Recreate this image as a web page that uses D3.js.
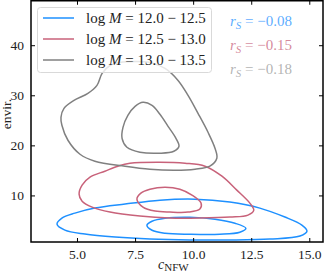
<!DOCTYPE html>
<html>
<head>
<meta charset="utf-8">
<script src="https://cdn.jsdelivr.net/npm/d3@7"></script>
<style>
  body { margin: 0; background: #fff; }
  svg { display: block; font-family: "Liberation Serif", "DejaVu Serif", serif; }
</style>
</head>
<body>
<div id="chart"></div>
<script>
// mass bins, correlation values and tick labels
const massBins = ["12.0 \u2212 12.5", "12.5 \u2212 13.0", "13.0 \u2212 13.5"];
const rsValues = ["\u22120.08", "\u22120.15", "\u22120.18"];
const colors = ["#1e90ff", "#c8627a", "#808080"];
const xTicks = [5.0, 7.5, 10.0, 12.5, 15.0];
const yTicks = [10, 20, 30, 40];

// contour levels: [cNFW, envir]
const blueOuter = [[4.14,4.28],[4.35,5.48],[4.91,6.47],[5.77,7.47],[7.07,8.27],[8.57,9.06],[10.08,9.26],[11.58,8.67],[12.87,7.47],[13.95,5.68],[14.68,4.08],[14.90,2.88],[14.60,1.89],[13.30,1.29],[11.58,1.10],[9.86,1.10],[8.14,1.29],[6.64,1.69],[5.34,2.29],[4.48,3.08]];
const blueInner = [[8.01,4.04],[8.23,4.84],[8.79,5.44],[9.86,5.64],[10.94,5.24],[11.80,4.44],[12.27,3.44],[12.01,2.65],[11.15,2.25],[9.86,2.25],[8.79,2.45],[8.23,3.05]];
const redOuter = [[7.28,16.43],[8.57,16.63],[9.65,16.43],[10.51,15.84],[11.24,13.84],[11.88,11.06],[12.44,8.47],[12.61,7.07],[12.36,6.07],[11.58,5.68],[10.29,5.48],[9.00,5.48],[7.71,5.88],[6.42,6.67],[5.65,7.67],[5.22,8.86],[5.09,10.26],[5.22,12.05],[5.56,13.65],[6.20,14.84],[6.76,15.84]];
const redInner = [[7.58,9.26],[7.75,10.46],[8.14,11.25],[8.79,11.65],[9.43,11.25],[9.95,10.06],[10.34,8.47],[10.29,7.27],[9.78,6.67],[9.00,6.67],[8.36,6.87],[7.84,7.67]];
const grayOuter = [[6.08,34.36],[6.42,35.95],[6.85,36.55],[7.50,36.75],[8.14,36.55],[8.79,35.36],[9.35,32.97],[9.78,29.98],[10.21,26.39],[10.64,22.61],[10.94,19.42],[11.02,17.43],[10.72,15.84],[10.08,15.24],[9.22,15.04],[8.14,15.24],[7.07,15.84],[5.77,16.83],[5.13,18.23],[4.61,21.02],[4.35,24.01],[4.31,25.60],[4.44,27.39],[4.87,28.98],[5.47,30.38],[5.86,31.97]];
const grayInner = [[7.84,28.59],[8.23,27.99],[8.57,26.20],[8.92,23.80],[9.26,21.41],[9.39,19.82],[9.17,18.82],[8.57,18.43],[7.71,18.63],[7.15,19.62],[6.94,21.41],[6.98,23.60],[7.19,25.99],[7.50,27.79]];

const contours = [
  {bin: 0, pts: blueOuter}, {bin: 0, pts: blueInner},
  {bin: 1, pts: redOuter}, {bin: 1, pts: redInner},
  {bin: 2, pts: grayOuter}, {bin: 2, pts: grayInner}
];

const W = 324, H = 276;
const m = {left: 31, right: 323, top: 0.75, bottom: 242};

const svg = d3.select("#chart").append("svg")
    .attr("width", W)
    .attr("height", H);

const x = d3.scaleLinear().domain([3.02, 15.59]).range([m.left, m.right]);
const y = d3.scaleLinear().domain([0.7, 48.88]).range([m.bottom, m.top]);

svg.append("clipPath").attr("id", "clip")
  .append("rect")
    .attr("x", m.left).attr("y", m.top)
    .attr("width", m.right - m.left).attr("height", m.bottom - m.top);

const line = d3.line()
    .x(d => x(d[0]))
    .y(d => y(d[1]))
    .curve(d3.curveCatmullRomClosed.alpha(0.5));

//contours
svg.append("g").attr("clip-path", "url(#clip)")
  .selectAll("path")
  .data(contours)
  .enter()
  .append("path")
    .attr("d", d => line(d.pts))
    .attr("fill", "none")
    .attr("stroke", d => colors[d.bin])
    .attr("stroke-width", 1.5);

//axes with inward ticks on all four sides
const tickLen = 4;
const fmt = d3.format(".1f");
const axB = svg.append("g").attr("transform", "translate(0," + m.bottom + ")")
    .call(d3.axisBottom(x).tickValues(xTicks).tickFormat(fmt).tickSizeInner(-tickLen).tickSizeOuter(0).tickPadding(7));
const axT = svg.append("g").attr("transform", "translate(0," + m.top + ")")
    .call(d3.axisTop(x).tickValues(xTicks).tickFormat("").tickSizeInner(-tickLen).tickSizeOuter(0));
const axL = svg.append("g").attr("transform", "translate(" + m.left + ",0)")
    .call(d3.axisLeft(y).tickValues(yTicks).tickSizeInner(-tickLen).tickSizeOuter(0).tickPadding(7));
const axR = svg.append("g").attr("transform", "translate(" + m.right + ",0)")
    .call(d3.axisRight(y).tickValues(yTicks).tickFormat("").tickSizeInner(-tickLen).tickSizeOuter(0));

[axB, axT, axL, axR].forEach(function(a) {
  a.attr("font-family", null);
  a.select(".domain").remove();
  a.selectAll(".tick line").attr("stroke", "#000").attr("stroke-width", 1);
  a.selectAll("text")
    .attr("fill", "#222")
    .style("font-family", "'Liberation Serif', serif")
    .style("font-size", "13.5px");
});

svg.append("rect")
    .attr("x", m.left).attr("y", m.top)
    .attr("width", m.right - m.left).attr("height", m.bottom - m.top)
    .attr("fill", "none")
    .attr("stroke", "#000")
    .attr("stroke-width", 1.5);

//axis labels
const xl = svg.append("text")
    .attr("x", 158)
    .attr("y", 269)
    .attr("font-size", 14)
    .attr("fill", "#222");
xl.append("tspan").attr("font-style", "italic").text("c");
xl.append("tspan").attr("font-size", 11).attr("dy", 2).text("NFW");

svg.append("text")
    .attr("transform", "translate(11,114) rotate(-90)")
    .attr("text-anchor", "middle")
    .attr("font-size", 13.5)
    .attr("fill", "#222")
    .text("envir.");

//legend
const lg = svg.append("g");
lg.append("rect")
    .attr("x", 37.5).attr("y", 7.5)
    .attr("width", 174).attr("height", 65)
    .attr("rx", 3)
    .attr("fill", "#fff")
    .attr("fill-opacity", 0.8)
    .attr("stroke", "#d9d9d9")
    .attr("stroke-width", 1);

massBins.forEach(function(b, i) {
  const cy = 18 + i * 21;
  lg.append("line")
      .attr("x1", 43).attr("x2", 74)
      .attr("y1", cy).attr("y2", cy)
      .attr("stroke", colors[i])
      .attr("stroke-width", 1.5);
  const t = lg.append("text")
      .attr("x", 86)
      .attr("y", cy + 5)
      .attr("font-size", 15)
      .attr("fill", "#222");
  t.append("tspan").text("log ");
  t.append("tspan").attr("font-style", "italic").text("M");
  t.append("tspan").text(" = " + b);
});

//spearman coefficients
rsValues.forEach(function(v, i) {
  const t = svg.append("text")
      .attr("x", 230)
      .attr("y", 26 + i * 24)
      .attr("font-size", 15)
      .attr("fill", colors[i])
      .attr("fill-opacity", i === 2 ? 0.6 : 0.75);
  t.append("tspan").attr("font-style", "italic").text("r");
  t.append("tspan").attr("font-style", "italic").attr("font-size", 11).attr("dy", 3).text("S");
  t.append("tspan").attr("dy", -3).text(" = " + v);
});
</script>
</body>
</html>
